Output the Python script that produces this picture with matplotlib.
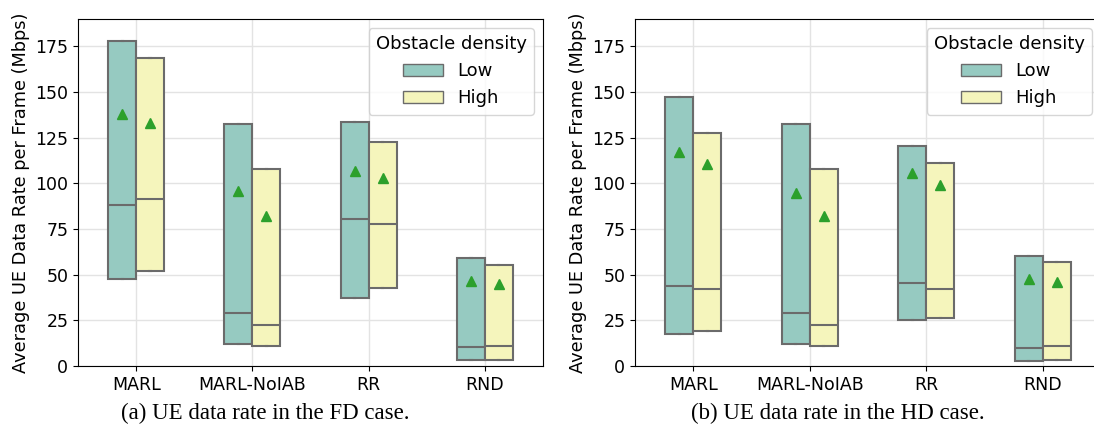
import matplotlib
matplotlib.use("Agg")
import matplotlib.pyplot as plt
from matplotlib.patches import Patch

categories = ["MARL", "MARL-NoIAB", "RR", "RND"]
densities = ["Low", "High"]

# FD case: [Low, High] per category -> (min, median, max, mean)
fd_min = [[47.4, 52.2], [11.9, 10.8], [37.4, 42.9], [3.1, 3.5]]
fd_med = [[87.9, 91.7], [29.0, 22.6], [80.4, 77.9], [10.4, 10.9]]
fd_max = [[178.1, 168.5], [132.6, 107.6], [133.5, 122.4], [58.9, 55.5]]
fd_mean = [[138.0, 133.1], [95.6, 82.4], [106.7, 102.7], [46.3, 44.7]]

# HD case
hd_min = [[17.7, 19.1], [11.9, 10.8], [25.4, 26.5], [2.7, 3.3]]
hd_med = [[43.6, 42.1], [29.0, 22.6], [45.4, 42.1], [10.1, 10.7]]
hd_max = [[147.2, 127.7], [132.6, 107.6], [120.4, 111.1], [60.2, 56.7]]
hd_mean = [[117.1, 110.7], [95.0, 82.4], [105.6, 99.0], [47.8, 46.0]]

captions = ["(a) UE data rate in the FD case.", "(b) UE data rate in the HD case."]
colors = ["#96cac1", "#f5f5bc"]
edge = "#6b6b6b"


def draw_panel(ax, mins, meds, maxs, means):
    width = 0.24
    for j, dens in enumerate(densities):
        stats = []
        for i in range(len(categories)):
            stats.append(dict(whislo=mins[i][j], q1=mins[i][j], med=meds[i][j],
                              q3=maxs[i][j], whishi=maxs[i][j], mean=means[i][j],
                              fliers=[]))
        pos = [i + (j - 0.5) * width for i in range(len(categories))]
        ax.bxp(stats, positions=pos, widths=width, patch_artist=True,
               showmeans=True, showfliers=False, capwidths=0.01,
               boxprops=dict(facecolor=colors[j], edgecolor=edge, linewidth=1.5),
               medianprops=dict(color=edge, linewidth=1.5),
               whiskerprops=dict(color=edge, linewidth=1.5),
               capprops=dict(color=edge, linewidth=1.5),
               meanprops=dict(marker="^", markerfacecolor="#2ca02c",
                              markeredgecolor="#2ca02c", markersize=7.5),
               zorder=3)
    ax.set_xlim(-0.5, 3.5)
    ax.set_ylim(0, 190)
    ax.set_xticks(range(len(categories)))
    ax.set_xticklabels(categories)
    ax.set_yticks(range(0, 176, 25))
    ax.tick_params(labelsize=12.5)
    ax.grid(True, color="#e3e3e3", linewidth=1)
    ax.set_axisbelow(True)
    ax.set_ylabel("Average UE Data Rate per Frame (Mbps)", fontsize=12.8)
    handles = [Patch(facecolor=colors[k], edgecolor=edge, label=densities[k])
               for k in range(2)]
    ax.legend(handles=handles, title="Obstacle density", loc="upper right",
              fontsize=13, title_fontsize=13, handlelength=2.2)


fig = plt.figure(figsize=(10.94, 4.41), dpi=100)
ax1 = fig.add_axes([78 / 1094, 75 / 441, 465 / 1094, 347 / 441])
ax2 = fig.add_axes([635 / 1094, 75 / 441, 466 / 1094, 347 / 441])
draw_panel(ax1, fd_min, fd_med, fd_max, fd_mean)
draw_panel(ax2, hd_min, hd_med, hd_max, hd_mean)

fig.text(265 / 1094, 1 - 413 / 441, captions[0], ha="center", va="center",
         fontsize=16.5, family="Liberation Serif")
fig.text(838 / 1094, 1 - 413 / 441, captions[1], ha="center", va="center",
         fontsize=16.5, family="Liberation Serif")

fig.savefig("out.png", dpi=100)
